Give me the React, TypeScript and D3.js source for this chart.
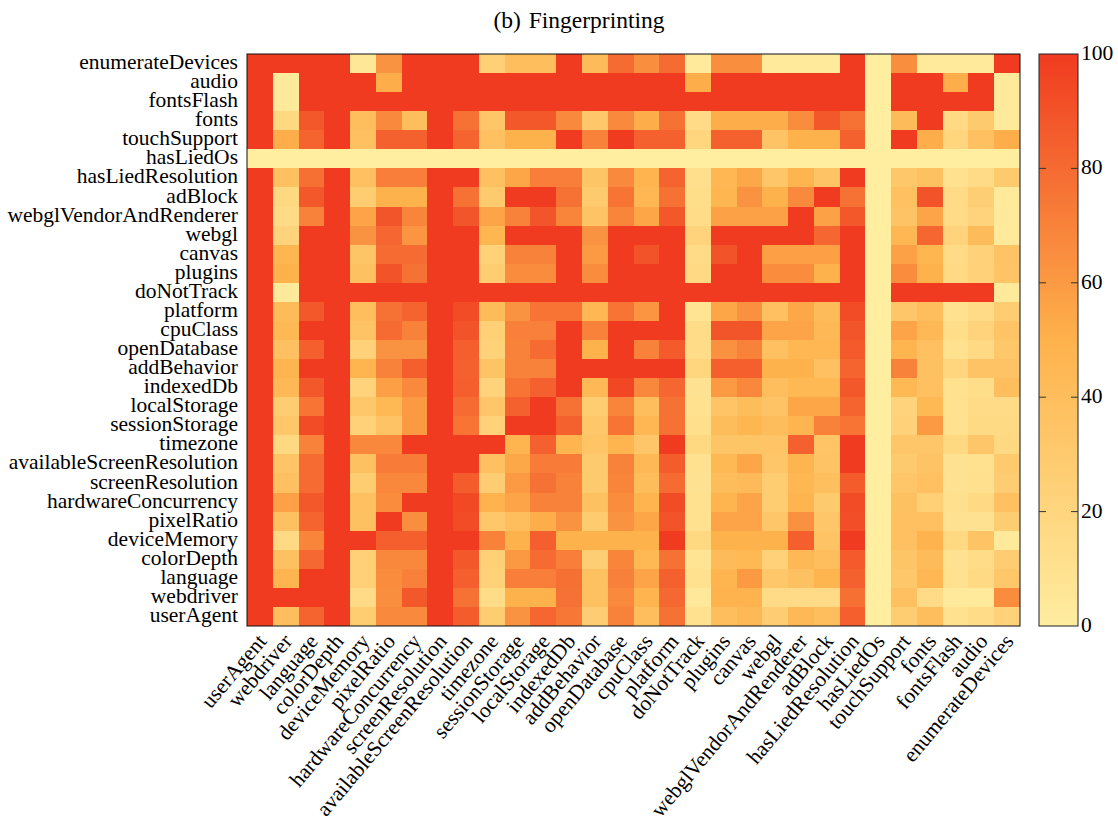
import React from "react";
import * as d3 from "d3";

const labels = ["userAgent","webdriver","language","colorDepth","deviceMemory","pixelRatio","hardwareConcurrency","screenResolution","availableScreenResolution","timezone","sessionStorage","localStorage","indexedDb","addBehavior","openDatabase","cpuClass","platform","doNotTrack","plugins","canvas","webgl","webglVendorAndRenderer","adBlock","hasLiedResolution","hasLiedOs","touchSupport","fonts","fontsFlash","audio","enumerateDevices"];
const rowLabels = [...labels].reverse();

// rows top to bottom (enumerateDevices ... userAgent), columns left to right (userAgent ... enumerateDevices)
const matrix: number[][] = [
[100,100,100,100,5,63,100,100,100,25,40,40,100,42,80,65,80,3,65,65,3,3,3,100,0,65,3,3,3,100],
[100,3,100,100,100,52,100,100,100,100,100,100,100,100,100,100,100,52,100,100,100,100,100,100,0,100,100,52,100,3],
[100,3,100,100,100,100,100,100,100,100,100,100,100,100,100,100,100,100,100,100,100,100,100,100,0,100,100,100,100,3],
[100,18,88,100,40,67,40,100,77,33,88,88,67,32,67,52,77,15,52,52,52,66,88,77,0,42,100,17,30,3],
[100,52,83,100,38,84,84,100,83,38,50,50,100,70,100,84,84,20,84,84,36,50,50,84,0,100,52,20,38,52],
[0,0,0,0,0,0,0,0,0,0,0,0,0,0,0,0,0,0,0,0,0,0,0,0,0,0,0,0,0,0],
[100,38,78,100,38,72,72,100,100,38,55,72,72,34,67,48,83,12,46,54,33,48,36,100,0,32,37,10,15,30],
[100,18,88,100,28,50,50,100,77,30,100,100,77,30,76,46,77,13,47,63,50,67,100,77,0,38,90,15,26,3],
[100,15,70,100,56,89,69,100,89,56,70,89,69,36,69,55,88,14,57,57,57,100,57,88,0,36,56,15,22,3],
[100,22,100,100,63,82,62,100,100,47,100,100,100,63,100,100,100,22,100,100,100,100,82,100,0,46,82,22,42,3],
[100,47,100,100,34,80,80,100,100,24,70,70,100,60,100,90,100,15,90,100,58,58,58,100,0,57,47,15,24,36],
[100,50,100,100,37,90,77,100,100,28,66,66,100,66,100,100,100,17,100,100,66,66,50,100,0,66,50,17,24,35],
[100,3,100,100,100,100,100,100,100,100,100,100,100,100,100,100,100,100,100,100,100,100,100,100,0,100,100,100,100,3],
[100,42,88,100,40,77,83,100,93,42,63,76,76,46,76,62,100,8,55,64,38,54,42,93,0,33,40,10,15,28],
[100,45,100,100,36,80,70,100,90,25,71,71,100,70,100,100,100,14,89,89,56,56,44,89,0,56,44,13,22,35],
[100,38,85,100,23,63,63,100,85,23,70,80,100,50,100,70,87,14,64,70,38,46,46,87,0,48,38,10,17,32],
[100,48,100,100,48,70,85,100,84,36,70,70,100,100,100,100,100,20,85,85,50,50,38,83,0,70,37,20,36,36],
[100,44,88,100,22,58,67,100,85,22,76,84,100,44,95,68,82,9,60,68,40,45,45,88,0,45,38,10,13,40],
[100,28,76,100,32,45,60,100,80,33,84,100,77,28,69,40,77,10,35,41,36,55,55,83,0,22,45,10,15,15],
[100,32,93,100,24,36,60,100,76,24,100,100,84,32,76,46,77,12,41,47,41,48,70,76,0,24,60,10,16,16],
[100,18,70,100,68,68,100,100,100,100,48,84,48,35,48,33,100,18,34,34,35,84,35,100,0,33,33,18,33,18],
[100,35,80,100,37,73,73,100,100,38,54,73,73,30,70,44,86,10,45,55,33,48,36,100,0,30,36,9,10,30],
[100,38,80,100,28,68,68,100,86,27,60,77,70,30,69,41,80,9,41,43,28,46,39,86,0,33,38,9,11,27],
[100,57,88,100,38,66,100,100,94,49,56,70,70,37,66,48,93,10,48,56,28,48,30,93,0,37,25,11,17,38],
[100,37,83,100,37,100,65,100,93,32,40,52,63,29,63,55,90,10,56,56,33,64,33,92,0,38,38,9,9,28],
[100,17,69,100,100,85,85,100,100,70,50,85,50,50,50,50,100,18,50,50,50,85,36,100,0,38,49,18,36,3],
[100,37,81,100,25,68,68,100,88,25,61,80,72,26,69,45,77,8,42,45,24,44,40,87,0,34,42,9,14,27],
[100,48,100,100,25,66,71,100,85,24,72,72,78,37,71,56,84,10,48,60,32,37,48,84,0,32,46,10,17,32],
[100,100,100,100,15,65,88,100,77,14,50,50,77,37,67,48,81,4,49,49,15,15,15,78,0,38,15,3,3,66],
[100,40,83,100,28,67,67,100,86,28,63,82,75,27,70,40,77,10,40,44,27,44,40,85,0,28,40,10,14,24],
];

const colorStops = ["#ffeda0", "#feb24c", "#f03b20"];
const colorDomain = [0, 50, 100];
const legendTicks = [0, 20, 40, 60, 80, 100];
const title = "(b) Fingerprinting";

const FONT = "'Liberation Serif', serif";

export default function App() {
  const x = d3.scaleBand<string>().domain(labels).range([247, 1020]);
  const y = d3.scaleBand<string>().domain(rowLabels).range([54, 626]);
  const color = d3.scaleLinear<string>().domain(colorDomain).range(colorStops);
  const legendY = d3.scaleLinear().domain([0, 100]).range([626, 54]);
  const legendX0 = 1039, legendX1 = 1078;

  return (
    <svg width={1118} height={822} style={{ position: "absolute", left: 0, top: 0, display: "block" }} fontFamily={FONT} fill="#000">
      <defs>
        <linearGradient id="cb" x1="0" y1="1" x2="0" y2="0">
          {colorStops.map((c, i) => <stop key={i} offset={`${colorDomain[i]}%`} stopColor={c} />)}
        </linearGradient>
      </defs>
      <text x={579} y={28} textAnchor="middle" fontSize={23.5} style={{ wordSpacing: "2px" }}>{title}</text>
      {matrix.map((row, r) => row.map((v, c) => (
        <rect key={`${r}-${c}`} x={x(labels[c])} y={y(rowLabels[r])} width={x.bandwidth() + 0.3} height={y.bandwidth() + 0.3} fill={color(v)} shapeRendering="crispEdges" />
      )))}
      <rect x={247} y={54} width={773} height={572} fill="none" stroke="#111" strokeWidth={1} />
      {rowLabels.map(l => (
        <text key={l} x={238} y={y(l)! + y.bandwidth() / 2 + 5.5} textAnchor="end" fontSize={21.5}>{l}</text>
      ))}
      {labels.map(l => {
        const cx = x(l)! + x.bandwidth() / 2 + 3;
        return <text key={l} transform={`translate(${cx},638) rotate(-50)`} x={0} y={6} textAnchor="end" fontSize={21.5}>{l}</text>;
      })}
      <rect x={legendX0} y={54} width={legendX1 - legendX0} height={572} fill="url(#cb)" stroke="#222" strokeWidth={1} />
      {legendTicks.map(t => (
        <g key={t}>
          {t > 0 && t < 100 && <>
            <line x1={legendX0} x2={legendX0 + 7} y1={legendY(t)} y2={legendY(t)} stroke="#333" />
            <line x1={legendX1 - 7} x2={legendX1} y1={legendY(t)} y2={legendY(t)} stroke="#333" />
          </>}
          <text x={1081} y={legendY(t) + 6} fontSize={21.5}>{t}</text>
        </g>
      ))}
    </svg>
  );
}
